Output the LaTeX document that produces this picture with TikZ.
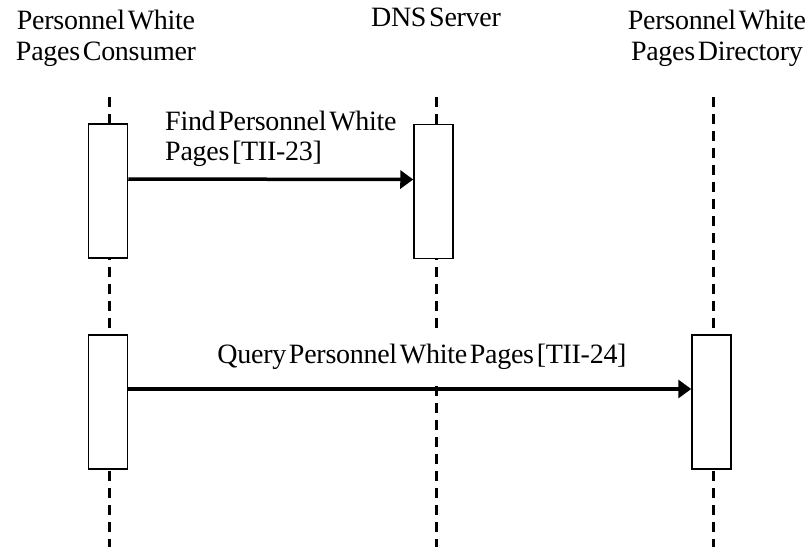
\documentclass[tikz,border=0pt]{standalone}
\usepackage{fontspec}
\setmainfont{Liberation Serif}[LetterSpace=-1,WordSpace=0.4]
\usetikzlibrary{arrows.meta,positioning}
\tikzset{
  lifeline/.style = {line width=3pt, dash pattern=on 10pt off 7pt},
  actbox/.style = {draw, fill=white, line width=1.5pt, inner sep=0pt,
    minimum width=39pt, minimum height=134pt},
  msg/.style = {line width=3.5pt, -{Triangle[length=13pt,width=18pt]}},
  who/.style = {align=center, inner sep=0pt, font=\fontsize{28}{31}\selectfont},
  msgtext/.style = {align=left, inner sep=0pt, font=\fontsize{28}{30}\selectfont}
}
\begin{document}
\begin{tikzpicture}[x=1pt,y=-1pt]
  \useasboundingbox (0,0) rectangle (808,547);
  \node[who, anchor=north] (cons) at (106,10) {Personnel White\\Pages Consumer};
  \node[who, anchor=north] (dns) at (436,8) {DNS Server};
  \node[who, anchor=north] (dir) at (717,10) {Personnel White\\Pages Directory};
  \coordinate (consT) at (109,97);
  \coordinate (consB) at (109,547);
  \coordinate (dnsT) at (436,97);
  \coordinate (dnsB) at (436,547);
  \coordinate (dirT) at (713,97);
  \coordinate (dirB) at (713,547);
  \draw[lifeline]
    (consT) -- (consB)
    (dnsT) -- (dnsB)
    (dirT) -- (dirB);
  \node[actbox] (act1) at (108,191) {};
  \node[actbox] (act2) at (433.5,191.5) {};
  \node[actbox] (act3) at (108,402) {};
  \node[actbox] (act4) at (711.5,402) {};
  \draw[msg] ([yshift=12pt]act1.east) -- ([yshift=12pt]act2.west);
  \node[msgtext, anchor=north west] (find) at (165,111) {Find Personnel White\\Pages [TII-23]};
  \draw[msg] ([yshift=13pt]act3.east) -- ([yshift=13pt]act4.west);
  \node[fill=white, inner xsep=2pt, inner ysep=10pt, anchor=base,
    font=\fontsize{28}{30}\selectfont] (query) at (422,363) {Query Personnel White Pages [TII-24]};
\end{tikzpicture}
\end{document}
